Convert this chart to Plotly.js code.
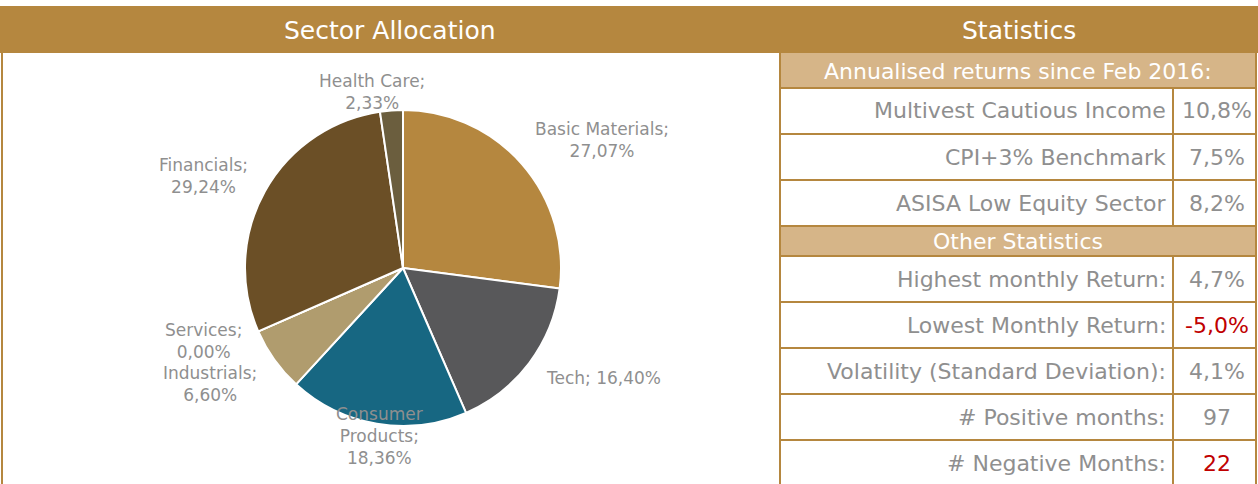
<!DOCTYPE html>
<html>
<head>
<meta charset="utf-8">
<script src="https://cdn.plot.ly/plotly-3.0.1.min.js"></script>
<style>
  html, body { margin: 0; padding: 0; background: #fff; }
  #chart { width: 1258px; height: 484px; }
</style>
</head>
<body>
<div id="chart"></div>
<script>
// pie data
const sectors = ["Basic Materials", "Tech", "Consumer Products", "Industrials", "Services", "Financials", "Health Care"];
const sectorLabels = ["Basic Materials;<br>", "Tech; ", "Consumer<br>Products;<br>", "Industrials;<br>", "Services;<br>", "Financials;<br>", "Health Care;<br>"];
const weights = [27.07, 16.40, 18.36, 6.60, 0.00, 29.24, 2.33];
const sliceColors = ["#B5873F", "#58585A", "#176782", "#B09C6E", "#8C7A50", "#6B4F26", "#6B5E3E"];

// statistics table
const annualLabels = ["Multivest Cautious Income", "CPI+3% Benchmark", "ASISA Low Equity Sector"];
const annualValues = ["10,8%", "7,5%", "8,2%"];
const otherLabels = ["Highest monthly Return:", "Lowest Monthly Return:", "Volatility (Standard Deviation):", "# Positive months:", "# Negative Months:"];
const otherValues = ["4,7%", "-5,0%", "4,1%", "97", "22"];

const W = 1258, H = 484;
const gold = "#B5873F", tan = "#D6B588", grey = "#8F8F8F", red = "#C00000";
const FONT = "DejaVu Sans, Verdana, sans-serif";
const CELL = 22;

// pixel -> paper helpers
const px = x => x / W;
const py = y => 1 - y / H;

const shapes = [];
const annotations = [];

function rect(x0, y0, x1, y1, fill) {
  shapes.push({type: "rect", xref: "paper", yref: "paper",
    x0: px(x0), x1: px(x1), y0: py(y1), y1: py(y0),
    fillcolor: fill, line: {width: 0}, layer: "below"});
}
function line(x0, y0, x1, y1) {
  shapes.push({type: "line", xref: "paper", yref: "paper",
    x0: px(x0), x1: px(x1), y0: py(y0), y1: py(y1),
    line: {color: gold, width: 2}});
}
function text(str, x, y, opts) {
  annotations.push(Object.assign({
    text: str, xref: "paper", yref: "paper", x: px(x), y: py(y),
    xanchor: "center", yanchor: "middle", showarrow: false,
    font: {family: FONT, size: CELL, color: grey}
  }, opts || {}));
}

// header band
rect(0, 6, W, 53, gold);
text("Sector Allocation", 390, 30, {font: {family: FONT, size: 25, color: "#fff"}});
text("Statistics", 1019, 30, {font: {family: FONT, size: 25, color: "#fff"}});

// left panel border
line(2, 53, 2, H);

// table geometry
const tL = 780, tR = 1256, tMid = 1173;
const annualTop = 88, rowH = 46;
rect(tL, 53, tR, annualTop, tan);
text("Annualised returns since Feb 2016:", (tL + tR) / 2, 71, {font: {family: FONT, size: CELL, color: "#fff"}});

annualLabels.forEach((lab, i) => {
  const y0 = annualTop + i * rowH;
  line(tL, y0, tR, y0);
  text(lab, tMid - 5, y0 + rowH / 2, {xanchor: "right"});
  text(annualValues[i], (tMid + tR) / 2 + 2, y0 + rowH / 2);
});

const otherTop = annualTop + annualLabels.length * rowH;   // 226
const subH = 30;
rect(tL, otherTop, tR, otherTop + subH, tan);
line(tL, otherTop, tR, otherTop);
text("Other Statistics", (tL + tR) / 2, otherTop + subH / 2, {font: {family: FONT, size: CELL, color: "#fff"}});

const rowsTop = otherTop + subH;
otherLabels.forEach((lab, i) => {
  const y0 = rowsTop + i * rowH;
  line(tL, y0, tR, y0);
  const v = otherValues[i];
  const isNeg = v.startsWith("-") || lab.indexOf("Negative") >= 0;
  text(lab, tMid - 5, y0 + rowH / 2, {xanchor: "right"});
  text(v, (tMid + tR) / 2 + 2, y0 + rowH / 2, {font: {family: FONT, size: CELL, color: isNeg ? red : grey}});
});

// table vertical borders
line(tL, 53, tL, H);
line(tR, 53, tR, H);
line(tMid, annualTop, tMid, otherTop);
line(tMid, rowsTop, tMid, H);

// pie labels (positions in px)
const labelPos = [[602, 140], [603, 378], [379, 436], [210, 384], [203, 341], [203, 176], [372, 92]];
const fmt = v => v.toFixed(2).replace(".", ",") + "%";
sectors.forEach((s, i) => {
  text(sectorLabels[i] + fmt(weights[i]), labelPos[i][0], labelPos[i][1],
    {font: {family: FONT, size: 17, color: grey}});
});

const cx = 403, cy = 268, r = 158;
const trace = {
  type: "pie",
  labels: sectors,
  values: weights,
  sort: false,
  direction: "clockwise",
  rotation: 0,
  textinfo: "none",
  hoverinfo: "label+percent",
  marker: {colors: sliceColors, line: {color: "#fff", width: 2}},
  domain: {x: [px(cx - r), px(cx + r)], y: [py(cy + r), py(cy - r)]},
  showlegend: false
};

Plotly.newPlot("chart", [trace], {
  width: W, height: H,
  margin: {l: 0, r: 0, t: 0, b: 0},
  paper_bgcolor: "#fff",
  plot_bgcolor: "#fff",
  shapes: shapes,
  annotations: annotations,
  showlegend: false
}, {displayModeBar: false, staticPlot: true});
</script>
</body>
</html>
